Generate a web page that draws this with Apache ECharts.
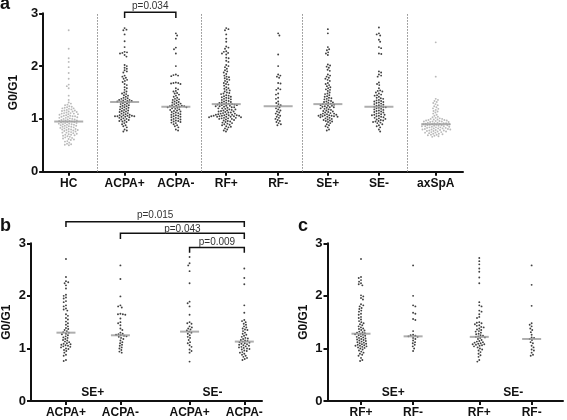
<!DOCTYPE html>
<html><head><meta charset="utf-8">
<script src="https://cdn.jsdelivr.net/npm/echarts@6/dist/echarts.min.js"></script>
<style>html,body{margin:0;padding:0;background:#fff}#c{width:567px;height:420px}</style>
</head><body><div id="c"></div><script>
// ---------------- DATA ----------------
const yTicks = [0, 1, 2, 3];
const yName = 'G0/G1';
const panelLetters = ['a', 'b', 'c'];

// panel a
const aCategories = ['HC', 'ACPA+', 'ACPA-', 'RF+', 'RF-', 'SE+', 'SE-', 'axSpA'];
const aHC = [2.68,2.33,2.15,2.08,1.98,1.87,1.76,1.65,1.62,1.58,1.44,1.36,1.31,1.29,1.27,1.26,1.24,1.23,1.22,1.21,1.2,1.2,1.19,1.18,1.17,1.16,1.16,1.15,1.14,1.14,1.13,1.12,1.11,1.11,1.1,1.1,1.09,1.09,1.08,1.07,1.06,1.06,1.05,1.05,1.04,1.04,1.03,1.02,1.02,1.01,1.0,1.0,0.99,0.99,0.98,0.97,0.97,0.96,0.96,0.95,0.95,0.94,0.94,0.93,0.92,0.92,0.91,0.91,0.9,0.9,0.89,0.89,0.88,0.87,0.87,0.86,0.85,0.85,0.84,0.84,0.83,0.82,0.81,0.81,0.8,0.8,0.79,0.79,0.78,0.77,0.76,0.76,0.75,0.74,0.74,0.73,0.72,0.71,0.7,0.7,0.69,0.68,0.67,0.66,0.65,0.64,0.63,0.62,0.61,0.6,0.58,0.57,0.55,0.53,0.52,0.51,0.5];
const aACPApos = [2.72,2.69,2.68,2.6,2.47,2.36,2.27,2.26,2.25,2.24,2.21,2.18,2.02,2.0,1.97,1.95,1.92,1.9,1.88,1.82,1.8,1.78,1.76,1.74,1.72,1.7,1.66,1.64,1.6,1.58,1.55,1.52,1.5,1.48,1.47,1.45,1.44,1.42,1.4,1.39,1.38,1.37,1.36,1.36,1.35,1.34,1.34,1.33,1.33,1.32,1.31,1.3,1.29,1.28,1.27,1.26,1.25,1.24,1.23,1.22,1.21,1.2,1.19,1.18,1.17,1.16,1.15,1.14,1.13,1.12,1.11,1.1,1.09,1.08,1.07,1.07,1.06,1.06,1.05,1.05,1.05,1.04,1.04,1.03,1.02,1.01,1.0,0.99,0.98,0.97,0.96,0.95,0.94,0.92,0.9,0.88,0.86,0.84,0.8,0.78,0.76];
const aACPAneg = [2.62,2.58,2.52,2.35,2.32,2.24,2.0,1.84,1.83,1.82,1.81,1.69,1.68,1.68,1.67,1.66,1.58,1.56,1.53,1.52,1.49,1.48,1.46,1.44,1.42,1.4,1.38,1.37,1.36,1.35,1.33,1.32,1.31,1.3,1.29,1.28,1.27,1.26,1.25,1.25,1.24,1.24,1.23,1.23,1.22,1.22,1.21,1.2,1.19,1.18,1.17,1.16,1.15,1.14,1.13,1.12,1.11,1.1,1.09,1.08,1.07,1.06,1.05,1.04,1.03,1.02,1.01,1.0,0.99,0.98,0.97,0.96,0.95,0.94,0.93,0.92,0.9,0.88,0.86,0.84,0.8,0.78];
const aRFpos = [2.72,2.7,2.68,2.6,2.52,2.46,2.37,2.35,2.33,2.28,2.27,2.25,2.24,2.22,2.16,2.15,2.1,2.08,2.02,2.0,1.98,1.95,1.92,1.9,1.88,1.85,1.82,1.8,1.79,1.77,1.75,1.74,1.72,1.7,1.68,1.66,1.65,1.63,1.6,1.58,1.57,1.55,1.54,1.52,1.5,1.49,1.48,1.47,1.45,1.44,1.43,1.42,1.41,1.4,1.39,1.38,1.37,1.36,1.35,1.34,1.33,1.32,1.31,1.3,1.3,1.29,1.28,1.28,1.27,1.27,1.26,1.26,1.25,1.25,1.24,1.24,1.23,1.22,1.22,1.21,1.2,1.2,1.19,1.18,1.18,1.17,1.16,1.16,1.15,1.14,1.14,1.13,1.12,1.12,1.11,1.1,1.1,1.09,1.09,1.08,1.08,1.07,1.07,1.07,1.06,1.06,1.06,1.05,1.05,1.05,1.04,1.04,1.04,1.03,1.03,1.02,1.02,1.01,1.01,1.0,1.0,0.99,0.98,0.97,0.96,0.95,0.94,0.93,0.92,0.91,0.9,0.89,0.88,0.86,0.85,0.84,0.82,0.8,0.78,0.76];
const aRFneg = [2.62,2.58,2.22,2.0,1.84,1.82,1.8,1.78,1.68,1.67,1.58,1.56,1.55,1.48,1.46,1.4,1.38,1.33,1.3,1.28,1.26,1.24,1.22,1.2,1.18,1.16,1.14,1.12,1.1,1.08,1.06,1.04,1.02,1.0,0.98,0.96,0.94,0.92,0.9,0.88];
const aSEpos = [2.7,2.62,2.36,2.32,2.3,2.26,2.24,2.21,2.03,2.01,1.99,1.97,1.93,1.91,1.84,1.82,1.8,1.78,1.76,1.74,1.72,1.68,1.66,1.64,1.62,1.6,1.58,1.56,1.55,1.53,1.5,1.48,1.47,1.45,1.43,1.42,1.4,1.39,1.38,1.37,1.35,1.34,1.33,1.32,1.31,1.3,1.29,1.28,1.28,1.27,1.26,1.25,1.25,1.24,1.23,1.22,1.22,1.21,1.2,1.19,1.18,1.17,1.16,1.15,1.14,1.13,1.12,1.11,1.1,1.1,1.09,1.08,1.08,1.07,1.07,1.06,1.06,1.05,1.05,1.04,1.04,1.03,1.02,1.01,1.0,0.99,0.98,0.97,0.96,0.95,0.94,0.92,0.9,0.88,0.86,0.84,0.8,0.78];
const aSEneg = [2.73,2.62,2.6,2.58,2.5,2.46,2.36,2.34,2.24,2.23,1.9,1.88,1.84,1.82,1.8,1.69,1.66,1.64,1.58,1.54,1.53,1.52,1.5,1.48,1.46,1.45,1.44,1.42,1.4,1.39,1.38,1.36,1.35,1.34,1.33,1.32,1.31,1.3,1.29,1.28,1.27,1.26,1.25,1.24,1.23,1.22,1.22,1.21,1.2,1.19,1.18,1.17,1.16,1.15,1.14,1.13,1.12,1.11,1.1,1.09,1.08,1.08,1.07,1.06,1.05,1.04,1.03,1.02,1.01,1.0,0.99,0.98,0.97,0.96,0.95,0.94,0.93,0.92,0.9,0.88,0.86,0.84,0.8,0.76];
const aAxSpA = [2.45,1.8,1.38,1.36,1.34,1.32,1.3,1.28,1.26,1.24,1.22,1.2,1.19,1.17,1.15,1.14,1.12,1.1,1.08,1.06,1.04,1.03,1.02,1.01,1.0,1.0,0.99,0.99,0.98,0.98,0.97,0.97,0.96,0.96,0.95,0.95,0.95,0.94,0.94,0.93,0.93,0.92,0.92,0.92,0.91,0.91,0.9,0.9,0.9,0.89,0.89,0.88,0.88,0.88,0.87,0.87,0.86,0.86,0.86,0.85,0.85,0.84,0.84,0.84,0.83,0.83,0.82,0.82,0.82,0.81,0.81,0.8,0.8,0.8,0.79,0.79,0.78,0.78,0.77,0.77,0.76,0.76,0.75,0.75,0.74,0.74,0.73,0.72,0.72,0.71,0.7,0.7,0.69,0.68,0.67,0.66];
const aMedians = [0.95, 1.32, 1.23, 1.28, 1.24, 1.28, 1.23, 0.90];
const aGray = [true, false, false, false, false, false, false, true];
const aPValues = ['p=0.034'];
const aPairs = [[1, 2]];

// panel b
const bCategories = ['ACPA+', 'ACPA-', 'ACPA+', 'ACPA-'];
const bSubgroups = ['SE+', 'SE-'];
const bSEposACPApos = [2.7,2.36,2.28,2.26,2.24,2.2,2.14,2.02,2.0,1.97,1.95,1.9,1.88,1.82,1.8,1.76,1.74,1.72,1.65,1.62,1.58,1.55,1.51,1.48,1.45,1.42,1.39,1.37,1.35,1.33,1.31,1.3,1.28,1.27,1.25,1.23,1.21,1.2,1.18,1.16,1.15,1.13,1.12,1.1,1.09,1.08,1.07,1.06,1.05,1.04,1.03,1.02,1.0,0.99,0.97,0.95,0.92,0.88,0.86,0.78,0.76];
const bSEposACPAneg = [2.58,2.32,1.99,1.82,1.8,1.78,1.66,1.65,1.65,1.64,1.57,1.5,1.48,1.44,1.38,1.35,1.3,1.28,1.27,1.26,1.25,1.24,1.23,1.22,1.2,1.18,1.15,1.12,1.1,1.07,1.05,1.02,1.0,0.97,0.94,0.92];
const bSEnegACPApos = [2.74,2.62,2.58,2.47,2.24,1.89,1.86,1.8,1.64,1.5,1.48,1.47,1.42,1.4,1.38,1.36,1.34,1.32,1.3,1.28,1.25,1.22,1.2,1.16,1.12,1.1,1.06,1.03,0.98,0.95,0.92,0.75];
const bSEnegACPAneg = [2.52,2.34,2.22,1.82,1.68,1.54,1.52,1.5,1.47,1.45,1.42,1.4,1.38,1.36,1.35,1.33,1.3,1.28,1.26,1.24,1.22,1.2,1.19,1.18,1.16,1.15,1.14,1.13,1.12,1.11,1.1,1.09,1.08,1.07,1.06,1.05,1.04,1.03,1.02,1.01,1.0,0.99,0.98,0.96,0.95,0.93,0.92,0.9,0.88,0.86,0.84,0.82,0.8,0.78];
const bMedians = [1.30, 1.25, 1.32, 1.13];
const bPValues = ['p=0.015', 'p=0.043', 'p=0.009'];
const bPairs = [[0, 3], [1, 3], [2, 3]];

// panel c
const cCategories = ['RF+', 'RF-', 'RF+', 'RF-'];
const cSubgroups = ['SE+', 'SE-'];
const cSEposRFpos = [2.7,2.36,2.34,2.3,2.27,2.24,2.22,2.2,2.01,1.99,1.96,1.93,1.84,1.82,1.8,1.77,1.75,1.72,1.7,1.66,1.64,1.6,1.58,1.55,1.52,1.5,1.48,1.46,1.44,1.42,1.4,1.38,1.37,1.35,1.34,1.32,1.31,1.3,1.29,1.28,1.27,1.26,1.25,1.24,1.23,1.22,1.21,1.2,1.19,1.18,1.17,1.16,1.15,1.14,1.13,1.12,1.11,1.1,1.09,1.08,1.07,1.06,1.05,1.05,1.04,1.03,1.02,1.01,1.0,0.98,0.96,0.94,0.92,0.9,0.88,0.86,0.82,0.78,0.76];
const cSEposRFneg = [2.58,2.0,1.82,1.8,1.68,1.66,1.56,1.54,1.33,1.26,1.25,1.24,1.23,1.22,1.2,1.18,1.15,1.12,1.1,1.07,1.04,1.0,0.95];
const cSEnegRFpos = [2.72,2.66,2.6,2.52,2.46,2.35,2.24,1.88,1.82,1.8,1.72,1.7,1.65,1.6,1.58,1.5,1.49,1.48,1.46,1.44,1.43,1.41,1.4,1.38,1.36,1.35,1.33,1.32,1.3,1.28,1.27,1.25,1.24,1.23,1.22,1.21,1.2,1.18,1.16,1.14,1.13,1.12,1.11,1.1,1.09,1.08,1.08,1.07,1.06,1.05,1.04,1.02,1.0,0.98,0.96,0.93,0.9,0.87,0.84,0.78,0.75];
const cSEnegRFneg = [2.58,2.21,1.81,1.48,1.45,1.42,1.38,1.35,1.31,1.26,1.21,1.2,1.18,1.16,1.12,1.1,1.05,1.02,0.98,0.96,0.92,0.88,0.86];
const cMedians = [1.28, 1.23, 1.22, 1.18];

// ---------------- LAYOUT ----------------
const FONT = '"Liberation Sans", Arial, Helvetica, sans-serif';
const BLACK = '#111';
const GRAY = '#a8a8a8';
const aPos = [1, 2.093, 3.095, 4.08, 5.095, 6.067, 7.065, 8.176];
const aSeparators = [1.547, 3.59, 5.571, 7.623];
const bcPos = [1, 2, 3.27, 4.275];
const panels = [
  { grid: {left: 32, top: 13.3, width: 431, height: 158.4}, xmin: 0.5, xmax: 8.709, pos: aPos, cats: aCategories,
    groups: [aHC, aACPApos, aACPAneg, aRFpos, aRFneg, aSEpos, aSEneg, aAxSpA], medians: aMedians, gray: aGray,
    medW: 29, swarmD: 2.45, nameGap: 18,
    brackets: aPairs.map((p, i) => ({p, label: aPValues[i], top: 3.02, bot: 2.91, txt: 3.125})), subs: [] },
  { grid: {left: 31, top: 243.3, width: 231, height: 157.7}, xmin: 0.358, xmax: 4.60, pos: bcPos, cats: bCategories,
    groups: [bSEposACPApos, bSEposACPAneg, bSEnegACPApos, bSEnegACPAneg], medians: bMedians, gray: [false,false,false,false],
    medW: 19, swarmD: 2.5, nameGap: 18,
    brackets: [
      {p: bPairs[0], label: bPValues[0], top: 3.41, bot: 3.31, txt: 3.54},
      {p: bPairs[1], label: bPValues[1], top: 3.19, bot: 3.08, txt: 3.27},
      {p: bPairs[2], label: bPValues[2], top: 2.92, bot: 2.82, txt: 3.02}],
    subs: [{t: bSubgroups[0], x: 1.49, y: 0.15}, {t: bSubgroups[1], x: 3.69, y: 0.15}] },
  { grid: {left: 327.5, top: 243.3, width: 235.5, height: 157.7}, xmin: 0.357, xmax: 4.877, pos: bcPos, cats: cCategories,
    groups: [cSEposRFpos, cSEposRFneg, cSEnegRFpos, cSEnegRFneg], medians: cMedians, gray: [false,false,false,false],
    medW: 19, swarmD: 2.5, nameGap: 18,
    brackets: [],
    subs: [{t: cSubgroups[0], x: 1.62, y: 0.15}, {t: cSubgroups[1], x: 3.92, y: 0.15}] }
];

function closestIdx(arr, v) {
  let b = 0; for (let i = 1; i < arr.length; i++) if (Math.abs(arr[i] - v) < Math.abs(arr[b] - v)) b = i; return b;
}

function swarm(pys, d) {
  const order = pys.map((_, i) => i).sort((a, b) => pys[a] - pys[b]);
  const placed = []; const dx = new Array(pys.length); let k = 0;
  for (const i of order) {
    const y = pys[i];
    const near = placed.filter(p => Math.abs(p.y - y) < d);
    const cands = [0];
    for (const p of near) { const w = Math.sqrt(d * d - (p.y - y) * (p.y - y)); cands.push(p.x + w, p.x - w); }
    const sgn = (k++ % 2) ? 1 : -1;
    cands.sort((a, b) => (Math.abs(a) - Math.abs(b)) || (sgn * (b - a)));
    let best = 0;
    for (const c of cands) {
      if (near.every(p => (p.x - c) * (p.x - c) + (p.y - y) * (p.y - y) >= d * d - 1e-6)) { best = c; break; }
    }
    placed.push({x: best, y}); dx[i] = best;
  }
  return dx;
}

function buildOption(offsets) {
  const grid = [], xAxis = [], yAxis = [], series = [], graphic = [];
  panels.forEach((P, gi) => {
    grid.push(P.grid);
    xAxis.push({
      type: 'value', gridIndex: gi, min: P.xmin, max: P.xmax,
      axisLine: {show: true, onZero: false, lineStyle: {color: BLACK, width: 2}},
      axisTick: {show: true, customValues: P.pos, length: 4, lineStyle: {color: BLACK, width: 2}},
      axisLabel: {show: true, customValues: P.pos, formatter: v => P.cats[closestIdx(P.pos, v)],
        color: BLACK, fontWeight: 'bold', fontSize: 12, fontFamily: FONT, margin: 6},
      splitLine: {show: false}
    });
    yAxis.push({
      type: 'value', gridIndex: gi, min: yTicks[0], max: yTicks[yTicks.length - 1], interval: 1,
      axisLine: {show: true, lineStyle: {color: BLACK, width: 2}},
      axisTick: {show: true, length: 4, lineStyle: {color: BLACK, width: 2}},
      axisLabel: {color: BLACK, fontWeight: 'bold', fontSize: 13, fontFamily: FONT, margin: 5},
      splitLine: {show: false},
      name: yName, nameLocation: 'middle', nameGap: P.nameGap,
      nameTextStyle: {color: BLACK, fontWeight: 'bold', fontSize: 12, fontFamily: FONT}
    });
    P.groups.forEach((vals, j) => {
      const offs = offsets ? offsets[gi][j] : null;
      series.push({
        type: 'scatter', xAxisIndex: gi, yAxisIndex: gi, symbol: 'circle', symbolSize: 1.9, silent: true, z: 3,
        itemStyle: {color: P.gray[j] ? GRAY : BLACK},
        data: vals.map((v, k) => ({value: [P.pos[j], v], symbolOffset: [offs ? offs[k] : 0, 0]})),
        markLine: (gi === 0 && j === 0) ? {
          silent: true, symbol: ['none', 'none'], label: {show: false},
          lineStyle: {type: [1.5, 1.5], color: '#888', width: 1},
          data: aSeparators.map(x => ({xAxis: x}))
        } : undefined
      });
    });
    series.push({
      type: 'scatter', xAxisIndex: gi, yAxisIndex: gi, symbol: 'rect', symbolSize: [P.medW, 2], silent: true, z: 5,
      itemStyle: {color: '#9a9a9a'},
      data: P.medians.map((m, j) => [P.pos[j], m])
    });
    if (P.brackets.length) {
      series.push({
        type: 'custom', xAxisIndex: gi, yAxisIndex: gi, clip: false, silent: true, z: 10,
        data: P.brackets.map(b => [P.pos[b.p[0]], P.pos[b.p[1]], b.top, b.bot, b.txt]),
        renderItem: (params, api) => {
          const x1 = api.value(0), x2 = api.value(1), yt = api.value(2), yb = api.value(3), ytx = api.value(4);
          const p1 = api.coord([x1, yb]), p2 = api.coord([x1, yt]), p3 = api.coord([x2, yt]), p4 = api.coord([x2, yb]);
          const t = api.coord([(x1 + x2) / 2, ytx]);
          return {type: 'group', children: [
            {type: 'polyline', shape: {points: [p1, p2, p3, p4]}, style: {stroke: BLACK, lineWidth: 1.5, fill: null}},
            {type: 'text', x: t[0], y: t[1], style: {text: P.brackets[params.dataIndex].label, fill: '#333',
              font: '10px ' + FONT, align: 'center', verticalAlign: 'middle'}}
          ]};
        }
      });
    }
    if (P.subs.length) {
      series.push({
        type: 'custom', xAxisIndex: gi, yAxisIndex: gi, clip: false, silent: true, z: 10,
        data: P.subs.map(s => [s.x, s.y]),
        renderItem: (params, api) => {
          const t = api.coord([api.value(0), api.value(1)]);
          return {type: 'text', x: t[0], y: t[1], style: {text: P.subs[params.dataIndex].t, fill: BLACK,
            font: 'bold 12px ' + FONT, align: 'center', verticalAlign: 'middle'}};
        }
      });
    }
  });
  const letterPos = [[0, 4.5], [0, 226.5], [298, 226.5]];
  panelLetters.forEach((L, i) => graphic.push({type: 'text', x: letterPos[i][0], y: letterPos[i][1], silent: true,
    style: {text: L, fill: BLACK, font: 'bold 18px ' + FONT, align: 'left', verticalAlign: 'middle'}}));
  return {animation: false, backgroundColor: '#fff', grid, xAxis, yAxis, series, graphic};
}

const chart = echarts.init(document.getElementById('c'), null, {renderer: 'canvas'});
chart.setOption(buildOption(null));
const offsets = panels.map((P, gi) => P.groups.map((vals, j) => {
  const pys = vals.map(v => chart.convertToPixel({gridIndex: gi}, [P.pos[j], v])[1]);
  return swarm(pys, P.swarmD);
}));
chart.setOption(buildOption(offsets), true);
</script></body></html>
